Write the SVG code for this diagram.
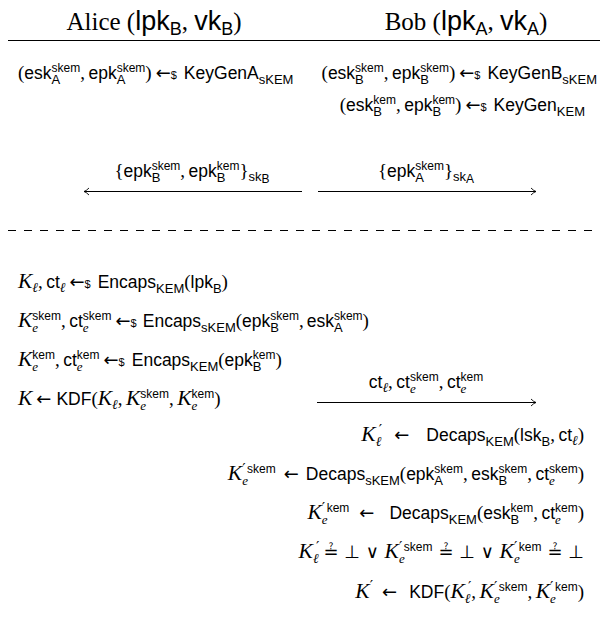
<svg xmlns="http://www.w3.org/2000/svg" width="608" height="621" viewBox="0 0 608 621">
<defs>
<style>
.t{font-family:"Liberation Sans","DejaVu Sans",sans-serif;font-size:17.5px;fill:#000}
.h{font-family:"Liberation Sans","DejaVu Sans",sans-serif;font-size:27px;fill:#000}
.hr{font-family:"Liberation Serif","DejaVu Serif",serif;font-size:25px}
.rm{font-family:"Liberation Serif","DejaVu Serif",serif;font-size:19px}
.ar{font-family:"DejaVu Sans",sans-serif;font-size:18px}
.eq{font-family:"DejaVu Sans",sans-serif;font-size:18px}
.it{font-family:"Liberation Serif","DejaVu Serif",serif;font-style:italic;font-size:21.5px}
.il{font-family:"DejaVu Serif",serif;font-style:italic;font-size:13.5px}
.sb{font-size:13px}
.ie{font-family:"Liberation Serif","DejaVu Serif",serif;font-style:italic;font-size:13px}
.sp{font-size:12px}
.ds{font-size:11px}
.pr{font-family:"DejaVu Serif",serif;font-size:15px}
.ln{stroke:#000;stroke-width:1;fill:none}
</style>
<marker id="ah" viewBox="-8 -5 10 10" markerWidth="10" markerHeight="10" refX="0" refY="0" orient="auto-start-reverse" markerUnits="userSpaceOnUse">
<path d="M-5,-3.5 Q-2,-0.5 0,0 Q-2,0.5 -5,3.5" fill="none" stroke="#000" stroke-width="0.9"/>
</marker>
</defs>
<rect width="608" height="621" fill="#fff"/>

<g id="alice-header">
<text class="h" x="154" y="30" text-anchor="middle"><tspan class="hr">Alice (</tspan>lpk<tspan font-size="18" dy="5">B</tspan><tspan class="hr" dy="-5">, </tspan>vk<tspan font-size="18" dy="5">B</tspan><tspan class="hr" dy="-5">)</tspan></text>
</g>
<g id="bob-header">
<text class="h" x="466" y="30" text-anchor="middle"><tspan class="hr">Bob (</tspan>lpk<tspan font-size="18" dy="5">A</tspan><tspan class="hr" dy="-5">, </tspan>vk<tspan font-size="18" dy="5">A</tspan><tspan class="hr" dy="-5">)</tspan></text>
</g>

<g id="rules">
<line class="ln" x1="8" y1="40.5" x2="600" y2="40.5"/>
<line class="ln" x1="8" y1="230.5" x2="600" y2="230.5" stroke-dasharray="8 8"/>
</g>

<g id="alice-keygen">
<text class="t" x="18" y="79"><tspan class="rm">(</tspan>esk<tspan class="sb" dy="4.5">A</tspan><tspan class="sp" dx="-8.7" dy="-12">skem</tspan><tspan class="rm" dy="7.5">,</tspan><tspan dx="3.5">epk</tspan><tspan class="sb" dy="4.5">A</tspan><tspan class="sp" dx="-8.7" dy="-12">skem</tspan><tspan class="rm" dy="7.5">)</tspan><tspan class="ar" dx="4">←</tspan><tspan class="ds">$</tspan><tspan dx="7">KeyGenA</tspan><tspan class="sb" dy="4.5">sKEM</tspan></text>
</g>
<g id="bob-keygen-skem">
<text class="t" x="597" y="79" text-anchor="end"><tspan class="rm">(</tspan>esk<tspan class="sb" dy="4.5">B</tspan><tspan class="sp" dx="-8.7" dy="-12">skem</tspan><tspan class="rm" dy="7.5">,</tspan><tspan dx="3.5">epk</tspan><tspan class="sb" dy="4.5">B</tspan><tspan class="sp" dx="-8.7" dy="-12">skem</tspan><tspan class="rm" dy="7.5">)</tspan><tspan class="ar" dx="4">←</tspan><tspan class="ds">$</tspan><tspan dx="7">KeyGenB</tspan><tspan class="sb" dy="4.5">sKEM</tspan></text>
</g>
<g id="bob-keygen-kem">
<text class="t" x="585" y="111" text-anchor="end"><tspan class="rm">(</tspan>esk<tspan class="sb" dy="4.5">B</tspan><tspan class="sp" dx="-8.7" dy="-12">kem</tspan><tspan class="rm" dy="7.5">,</tspan><tspan dx="3.5">epk</tspan><tspan class="sb" dy="4.5">B</tspan><tspan class="sp" dx="-8.7" dy="-12">kem</tspan><tspan class="rm" dy="7.5">)</tspan><tspan class="ar" dx="4">←</tspan><tspan class="ds">$</tspan><tspan dx="7">KeyGen</tspan><tspan class="sb" dy="4.5">KEM</tspan></text>
</g>

<g id="msg1-label">
<text class="t" x="192" y="177" text-anchor="middle"><tspan class="rm">{</tspan>epk<tspan class="sb" dy="4.5">B</tspan><tspan class="sp" dx="-8.7" dy="-12">skem</tspan><tspan class="rm" dy="7.5">,</tspan><tspan dx="3.5">epk</tspan><tspan class="sb" dy="4.5">B</tspan><tspan class="sp" dx="-8.7" dy="-12">kem</tspan><tspan class="rm" dy="7.5">}</tspan><tspan class="sb" dy="3.5">sk</tspan><tspan class="sp" dy="2">B</tspan></text>
</g>
<g id="msg2-label">
<text class="t" x="426" y="177" text-anchor="middle"><tspan class="rm">{</tspan>epk<tspan class="sb" dy="4.5">A</tspan><tspan class="sp" dx="-8.7" dy="-12">skem</tspan><tspan class="rm" dy="7.5">}</tspan><tspan class="sb" dy="3.5">sk</tspan><tspan class="sp" dy="2">A</tspan></text>
</g>

<g id="alice-encaps-l">
<text class="t" x="18" y="288"><tspan class="it">K</tspan><tspan class="il" dy="4">ℓ</tspan><tspan class="rm" dy="-4">,</tspan><tspan dx="3.5">ct</tspan><tspan class="il" dy="4">ℓ</tspan><tspan class="ar" dy="-4" dx="4">←</tspan><tspan class="ds">$</tspan><tspan dx="7">Encaps</tspan><tspan class="sb" dy="4.5">KEM</tspan><tspan class="rm" dy="-4.5">(</tspan>lpk<tspan class="sb" dy="4.5">B</tspan><tspan class="rm" dy="-4.5">)</tspan></text>
</g>
<g id="alice-encaps-skem">
<text class="t" x="18" y="327"><tspan class="it">K</tspan><tspan class="ie" dy="4.5">e</tspan><tspan class="sp" dx="-5.8" dy="-12">skem</tspan><tspan class="rm" dy="7.5">,</tspan><tspan dx="3.5">ct</tspan><tspan class="ie" dy="4.5">e</tspan><tspan class="sp" dx="-5.8" dy="-12">skem</tspan><tspan class="ar" dy="7.5" dx="4">←</tspan><tspan class="ds">$</tspan><tspan dx="6">Encaps</tspan><tspan class="sb" dy="4.5">sKEM</tspan><tspan class="rm" dy="-4.5">(</tspan>epk<tspan class="sb" dy="4.5">B</tspan><tspan class="sp" dx="-8.7" dy="-12">skem</tspan><tspan class="rm" dy="7.5">,</tspan><tspan dx="3">esk</tspan><tspan class="sb" dy="4.5">A</tspan><tspan class="sp" dx="-8.7" dy="-12">skem</tspan><tspan class="rm" dy="7.5">)</tspan></text>
</g>
<g id="alice-encaps-kem">
<text class="t" x="18" y="366"><tspan class="it">K</tspan><tspan class="ie" dy="4.5">e</tspan><tspan class="sp" dx="-5.8" dy="-12">kem</tspan><tspan class="rm" dy="7.5">,</tspan><tspan dx="3.5">ct</tspan><tspan class="ie" dy="4.5">e</tspan><tspan class="sp" dx="-5.8" dy="-12">kem</tspan><tspan class="ar" dy="7.5" dx="4">←</tspan><tspan class="ds">$</tspan><tspan dx="7">Encaps</tspan><tspan class="sb" dy="4.5">KEM</tspan><tspan class="rm" dy="-4.5">(</tspan>epk<tspan class="sb" dy="4.5">B</tspan><tspan class="sp" dx="-8.7" dy="-12">kem</tspan><tspan class="rm" dy="7.5">)</tspan></text>
</g>
<g id="alice-kdf">
<text class="t" x="18" y="405"><tspan class="it">K</tspan><tspan class="ar" dx="4">←</tspan><tspan dx="5">KDF</tspan><tspan class="rm">(</tspan><tspan class="it">K</tspan><tspan class="il" dy="4">ℓ</tspan><tspan class="rm" dy="-4">,</tspan><tspan class="it" dx="3.5">K</tspan><tspan class="ie" dy="4.5">e</tspan><tspan class="sp" dx="-5.8" dy="-12">skem</tspan><tspan class="rm" dy="7.5">,</tspan><tspan class="it" dx="3.5">K</tspan><tspan class="ie" dy="4.5">e</tspan><tspan class="sp" dx="-5.8" dy="-12">kem</tspan><tspan class="rm" dy="7.5">)</tspan></text>
</g>

<g id="msg3-label">
<text class="t" x="426" y="388" text-anchor="middle">ct<tspan class="il" dy="4">ℓ</tspan><tspan class="rm" dy="-4">,</tspan><tspan dx="3.5">ct</tspan><tspan class="ie" dy="4.5">e</tspan><tspan class="sp" dx="-5.8" dy="-12">skem</tspan><tspan class="rm" dy="7.5">,</tspan><tspan dx="3.5">ct</tspan><tspan class="ie" dy="4.5">e</tspan><tspan class="sp" dx="-5.8" dy="-12">kem</tspan></text>
</g>

<g id="bob-decaps-l">
<text class="t" x="584" y="441" text-anchor="end"><tspan class="it">K</tspan><tspan class="il" dy="4.5">ℓ</tspan><tspan class="pr" dx="-2.5" dy="-11">′</tspan><tspan class="ar" dy="6.5" dx="12">←</tspan><tspan dx="17">Decaps</tspan><tspan class="sb" dy="4.5">KEM</tspan><tspan class="rm" dy="-4.5">(</tspan>lsk<tspan class="sb" dy="4.5">B</tspan><tspan class="rm" dy="-4.5">,</tspan><tspan dx="3.5">ct</tspan><tspan class="il" dy="4">ℓ</tspan><tspan class="rm" dy="-4">)</tspan></text>
</g>
<g id="bob-decaps-skem">
<text class="t" x="584" y="480" text-anchor="end"><tspan class="it">K</tspan><tspan class="ie" dy="4.5">e</tspan><tspan class="pr" dx="-5.8" dy="-11">′</tspan><tspan class="sp" dx="1.5" dy="-1">skem</tspan><tspan class="ar" dy="7.5" dx="8">←</tspan><tspan dx="7">Decaps</tspan><tspan class="sb" dy="4.5">sKEM</tspan><tspan class="rm" dy="-4.5">(</tspan>epk<tspan class="sb" dy="4.5">A</tspan><tspan class="sp" dx="-8.7" dy="-12">skem</tspan><tspan class="rm" dy="7.5">,</tspan><tspan dx="3.5">esk</tspan><tspan class="sb" dy="4.5">B</tspan><tspan class="sp" dx="-8.7" dy="-12">skem</tspan><tspan class="rm" dy="7.5">,</tspan><tspan dx="3.5">ct</tspan><tspan class="ie" dy="4.5">e</tspan><tspan class="sp" dx="-5.8" dy="-12">skem</tspan><tspan class="rm" dy="7.5">)</tspan></text>
</g>
<g id="bob-decaps-kem">
<text class="t" x="584" y="519" text-anchor="end"><tspan class="it">K</tspan><tspan class="ie" dy="4.5">e</tspan><tspan class="pr" dx="-5.8" dy="-11">′</tspan><tspan class="sp" dx="1.5" dy="-1">kem</tspan><tspan class="ar" dy="7.5" dx="10">←</tspan><tspan dx="15">Decaps</tspan><tspan class="sb" dy="4.5">KEM</tspan><tspan class="rm" dy="-4.5">(</tspan>esk<tspan class="sb" dy="4.5">B</tspan><tspan class="sp" dx="-8.7" dy="-12">kem</tspan><tspan class="rm" dy="7.5">,</tspan><tspan dx="3.5">ct</tspan><tspan class="ie" dy="4.5">e</tspan><tspan class="sp" dx="-5.8" dy="-12">kem</tspan><tspan class="rm" dy="7.5">)</tspan></text>
</g>
<g id="bob-check">
<text class="t" x="584" y="558" text-anchor="end"><tspan class="it">K</tspan><tspan class="il" dy="4.5">ℓ</tspan><tspan class="pr" dx="-2.5" dy="-11">′</tspan><tspan class="eq" dy="6.5" dx="4">≟ ⊥ ∨ </tspan><tspan class="it">K</tspan><tspan class="ie" dy="4.5">e</tspan><tspan class="pr" dx="-5.8" dy="-11">′</tspan><tspan class="sp" dx="1.5" dy="-1">skem</tspan><tspan class="eq" dy="7.5" dx="6">≟ ⊥ ∨ </tspan><tspan class="it">K</tspan><tspan class="ie" dy="4.5">e</tspan><tspan class="pr" dx="-5.8" dy="-11">′</tspan><tspan class="sp" dx="1.5" dy="-1">kem</tspan><tspan class="eq" dy="7.5" dx="6">≟ ⊥</tspan></text>
</g>
<g id="bob-kdf">
<text class="t" x="584" y="598" text-anchor="end"><tspan class="it">K</tspan><tspan class="pr" dy="-7">′</tspan><tspan class="ar" dy="7" dx="9">←</tspan><tspan dx="12">KDF</tspan><tspan class="rm">(</tspan><tspan class="it">K</tspan><tspan class="il" dy="4.5">ℓ</tspan><tspan class="pr" dx="-2.5" dy="-11">′</tspan><tspan class="rm" dy="6.5">,</tspan><tspan class="it" dx="3.5">K</tspan><tspan class="ie" dy="4.5">e</tspan><tspan class="pr" dx="-5.8" dy="-11">′</tspan><tspan class="sp" dx="1.5" dy="-1">skem</tspan><tspan class="rm" dy="7.5">,</tspan><tspan class="it" dx="3.5">K</tspan><tspan class="ie" dy="4.5">e</tspan><tspan class="pr" dx="-5.8" dy="-11">′</tspan><tspan class="sp" dx="1.5" dy="-1">kem</tspan><tspan class="rm" dy="7.5">)</tspan></text>
</g>

<g id="connectors">
<line class="ln" x1="302" y1="191.5" x2="84" y2="191.5" marker-end="url(#ah)"/>
<line class="ln" x1="318" y1="191.5" x2="536" y2="191.5" marker-end="url(#ah)"/>
<line class="ln" x1="317" y1="402.5" x2="536" y2="402.5" marker-end="url(#ah)"/>
</g>
</svg>
